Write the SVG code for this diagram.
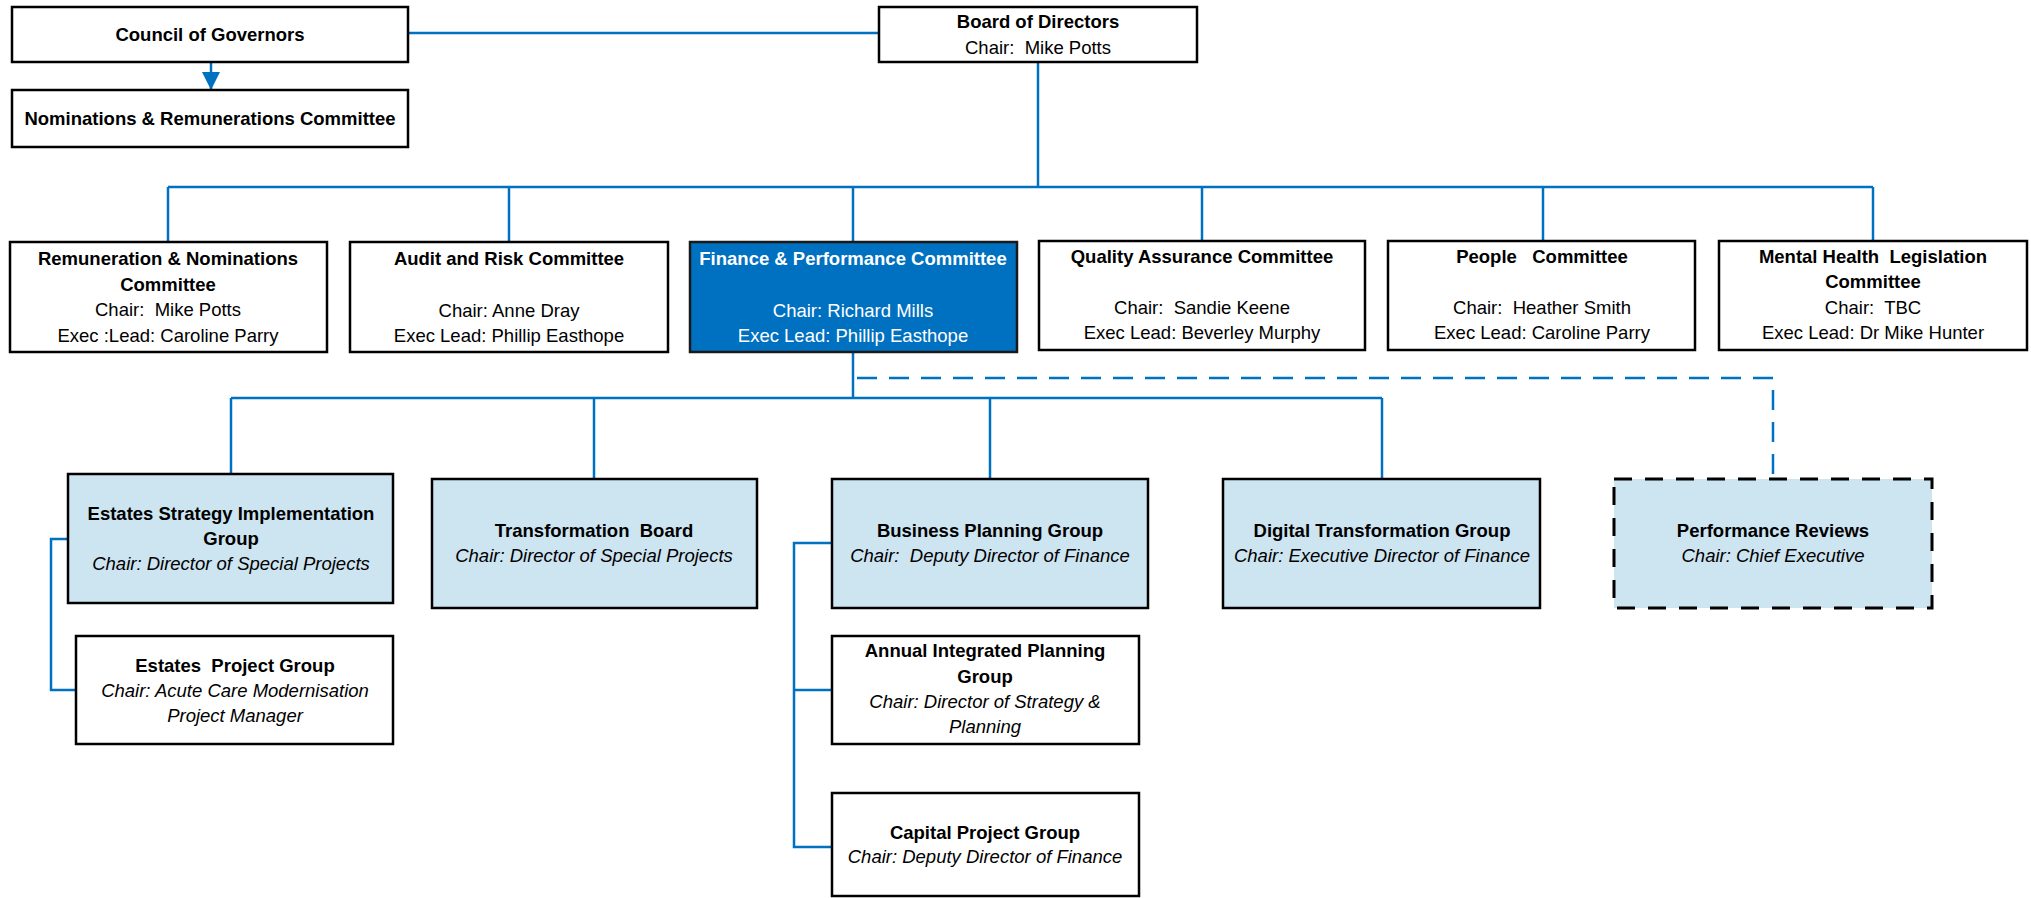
<svg xmlns="http://www.w3.org/2000/svg" width="2031" height="898" viewBox="0 0 2031 898">
<defs>
<style>
.box{fill:#fff;stroke:#000;stroke-width:2.5}
.lb{fill:#CDE4F1;stroke:#000;stroke-width:2.5}
.fin{fill:#0070C0;stroke:#1a1a1a;stroke-width:2.5}
.dash{fill:#CDE4F1;stroke:#000;stroke-width:3;stroke-dasharray:18 13}
text{font-family:"Liberation Sans",Arial,sans-serif;font-size:18.5px;text-anchor:middle;fill:#000;white-space:pre}
.b{font-weight:bold}
.i{font-style:italic}
.w{fill:#fff}
.ln{fill:none;stroke:#0070C0;stroke-width:2.5}
.dl{fill:none;stroke:#0070C0;stroke-width:2.5;stroke-dasharray:20 12}
</style>
<marker id="arr" markerWidth="18" markerHeight="18" refX="18" refY="9" orient="auto" markerUnits="userSpaceOnUse">
<path d="M0,0 L18,9 L0,18 Z" fill="#0070C0"/>
</marker>
</defs>
<rect width="2031" height="898" fill="#fff"/>

<g id="connectors">
<line class="ln" x1="211" y1="62" x2="211" y2="90" marker-end="url(#arr)"/>
<line class="ln" x1="408" y1="33" x2="879" y2="33"/>
<line class="ln" x1="1038" y1="62" x2="1038" y2="187"/>
<line class="ln" x1="168" y1="187" x2="1873" y2="187"/>
<line class="ln" x1="168" y1="187" x2="168" y2="242"/>
<line class="ln" x1="509" y1="187" x2="509" y2="242"/>
<line class="ln" x1="853" y1="187" x2="853" y2="242"/>
<line class="ln" x1="1202" y1="187" x2="1202" y2="241"/>
<line class="ln" x1="1543" y1="187" x2="1543" y2="241"/>
<line class="ln" x1="1873" y1="187" x2="1873" y2="241"/>
<line class="ln" x1="853" y1="352" x2="853" y2="398"/>
<line class="ln" x1="231" y1="398" x2="1382" y2="398"/>
<line class="ln" x1="231" y1="398" x2="231" y2="474"/>
<line class="ln" x1="594" y1="398" x2="594" y2="479"/>
<line class="ln" x1="990" y1="398" x2="990" y2="479"/>
<line class="ln" x1="1382" y1="398" x2="1382" y2="479"/>
<path class="dl" d="M857,378 H1773 V479"/>
<path class="ln" d="M68,539 H51 V690 H76"/>
<path class="ln" d="M832,543 H794 V847 H832 M794,690 H832"/>
</g>

<g id="council">
<rect class="box" x="12" y="7" width="396" height="55"/>
<text class="b" x="210" y="41">Council of Governors</text>
</g>
<g id="nominations">
<rect class="box" x="12" y="90" width="396" height="57"/>
<text class="b" x="210" y="125">Nominations &amp; Remunerations Committee</text>
</g>
<g id="board">
<rect class="box" x="879" y="7" width="318" height="55"/>
<text class="b" x="1038" y="28">Board of Directors</text>
<text x="1038" y="54">Chair:  Mike Potts</text>
</g>

<g id="remuneration">
<rect class="box" x="10" y="242" width="317" height="110"/>
<text class="b" x="168" y="265">Remuneration &amp; Nominations</text>
<text class="b" x="168" y="291">Committee</text>
<text x="168" y="316">Chair:  Mike Potts</text>
<text x="168" y="342">Exec :Lead: Caroline Parry</text>
</g>
<g id="audit">
<rect class="box" x="350" y="242" width="318" height="110"/>
<text class="b" x="509" y="265">Audit and Risk Committee</text>
<text x="509" y="317">Chair: Anne Dray</text>
<text x="509" y="342">Exec Lead: Phillip Easthope</text>
</g>
<g id="finance">
<rect class="fin" x="690" y="242" width="327" height="110"/>
<text class="b w" x="853" y="265">Finance &amp; Performance Committee</text>
<text class="w" x="853" y="317">Chair: Richard Mills</text>
<text class="w" x="853" y="342">Exec Lead: Phillip Easthope</text>
</g>
<g id="quality">
<rect class="box" x="1039" y="241" width="326" height="109"/>
<text class="b" x="1202" y="263">Quality Assurance Committee</text>
<text x="1202" y="314">Chair:  Sandie Keene</text>
<text x="1202" y="339">Exec Lead: Beverley Murphy</text>
</g>
<g id="people">
<rect class="box" x="1388" y="241" width="307" height="109"/>
<text class="b" x="1542" y="263">People   Committee</text>
<text x="1542" y="314">Chair:  Heather Smith</text>
<text x="1542" y="339">Exec Lead: Caroline Parry</text>
</g>
<g id="mental-health">
<rect class="box" x="1719" y="241" width="308" height="109"/>
<text class="b" x="1873" y="263">Mental Health  Legislation</text>
<text class="b" x="1873" y="288">Committee</text>
<text x="1873" y="314">Chair:  TBC</text>
<text x="1873" y="339">Exec Lead: Dr Mike Hunter</text>
</g>

<g id="estates-strategy">
<rect class="lb" x="68" y="474" width="325" height="129"/>
<text class="b" x="231" y="520">Estates Strategy Implementation</text>
<text class="b" x="231" y="545">Group</text>
<text class="i" x="231" y="570">Chair: Director of Special Projects</text>
</g>
<g id="transformation-board">
<rect class="lb" x="432" y="479" width="325" height="129"/>
<text class="b" x="594" y="537">Transformation  Board</text>
<text class="i" x="594" y="562">Chair: Director of Special Projects</text>
</g>
<g id="business-planning">
<rect class="lb" x="832" y="479" width="316" height="129"/>
<text class="b" x="990" y="537">Business Planning Group</text>
<text class="i" x="990" y="562">Chair:  Deputy Director of Finance</text>
</g>
<g id="digital-transformation">
<rect class="lb" x="1223" y="479" width="317" height="129"/>
<text class="b" x="1382" y="537">Digital Transformation Group</text>
<text class="i" x="1382" y="562">Chair: Executive Director of Finance</text>
</g>
<g id="performance-reviews">
<rect class="dash" x="1614" y="479" width="318" height="129"/>
<text class="b" x="1773" y="537">Performance Reviews</text>
<text class="i" x="1773" y="562">Chair: Chief Executive</text>
</g>
<g id="estates-project">
<rect class="box" x="76" y="636" width="317" height="108"/>
<text class="b" x="235" y="672">Estates  Project Group</text>
<text class="i" x="235" y="697">Chair: Acute Care Modernisation</text>
<text class="i" x="235" y="722">Project Manager</text>
</g>
<g id="annual-planning">
<rect class="box" x="832" y="636" width="307" height="108"/>
<text class="b" x="985" y="657">Annual Integrated Planning</text>
<text class="b" x="985" y="683">Group</text>
<text class="i" x="985" y="708">Chair: Director of Strategy &amp;</text>
<text class="i" x="985" y="733">Planning</text>
</g>
<g id="capital-project">
<rect class="box" x="832" y="793" width="307" height="103"/>
<text class="b" x="985" y="839">Capital Project Group</text>
<text class="i" x="985" y="863">Chair: Deputy Director of Finance</text>
</g>
</svg>
